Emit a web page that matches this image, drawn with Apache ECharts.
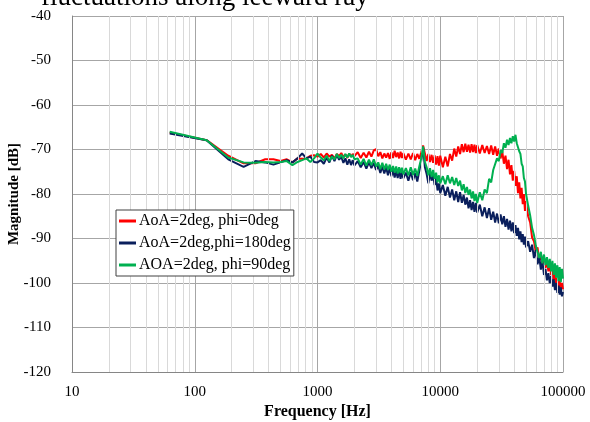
<!DOCTYPE html>
<html>
<head>
<meta charset="utf-8">
<script src="https://cdn.jsdelivr.net/npm/echarts@6/dist/echarts.min.js"></script>
<style>
  html, body { margin: 0; padding: 0; background: #fff; }
  #chart { width: 590px; height: 422px; }
</style>
</head>
<body>
<div id="chart"></div>
<script>
// FFT bin frequencies (Hz)
const freqHz = [
  62.5,125,187.5,250,312.5,375,437.5,500,562.5,625,687.5,750,812.5,875,937.5,1000,
  1062.5,1125,1187.5,1250,1312.5,1375,1437.5,1500,1562.5,1625,1687.5,1750,1812.5,1875,1937.5,2000,
  2125,2250,2375,2500,2625,2750,2875,3000,3125,3250,3375,3500,3625,3750,3875,4000,4125,4250,4375,4500,4625,4750,4875,5000,
  5250,5500,5750,6000,6250,6500,6750,7000,7250,7500,7750,8000,8250,8500,8750,9000,9250,9500,9750,10000,
  10500,11000,11500,12000,12500,13000,13500,14000,14500,15000,15500,16000,16500,17000,17500,18000,18500,19000,19500,20000,
  21000,22000,23000,24000,25000,26000,27000,28000,29000,30000,31000,32000,33000,34000,35000,36000,37000,38000,39000,40000,
  41000,42000,43000,44000,45000,46000,47000,48000,49000,50000,
  52000,54000,56000,58000,60000,62000,64000,66000,68000,70000,72000,74000,76000,78000,80000,
  82000,84000,86000,88000,90000,92000,94000,96000,98000,100000
];

// AoA=2deg, phi=0deg
const magPhi0 = [
  -66.2,-67.9,-71.4,-73.1,-73.1,-72.2,-72.2,-72.6,-72.2,-72.9,-72.0,-72.1,-72.0,-71.4,-71.3,-71.6,
  -71.0,-71.8,-70.9,-71.6,-71.2,-72.0,-71.0,-71.5,-70.8,-71.7,-71.1,-71.9,-70.9,-71.6,-71.0,-71.5,
  -70.6,-71.9,-70.7,-71.8,-70.5,-71.6,-70.2,-69.9,-71.5,-70.6,-72.0,-70.9,-71.8,-70.8,-72.1,-70.6,-71.9,-70.3,-71.7,-70.7,-72.0,-70.5,-71.9,-70.8,
  -72.3,-70.9,-72.2,-70.8,-72.4,-71.0,-72.1,-70.6,-69.1,-70.9,-72.6,-71.0,-72.8,-71.2,-73.0,-71.3,-73.4,-71.5,-73.6,-71.4,
  -74.0,-71.6,-73.8,-71.0,-72.5,-69.8,-71.6,-69.3,-71.0,-68.8,-70.6,-68.7,-70.5,-68.9,-70.7,-68.8,-70.6,-68.9,-70.8,-69.0,
  -70.9,-69.0,-70.8,-69.2,-71.0,-69.1,-71.2,-69.3,-71.4,-69.8,-72.0,-70.4,-73.2,-71.4,-74.4,-72.3,-75.6,-73.5,-77.0,-74.8,
  -78.2,-76.0,-79.8,-77.4,-81.0,-78.6,-82.3,-80.0,-83.8,-81.6,
  -85.0,-86.4,-89.8,-90.6,-93.0,-92.0,-95.0,-93.4,-95.8,-94.2,-96.6,-95.0,-97.4,-95.8,-98.2,
  -96.8,-99.4,-97.8,-100.4,-98.8,-101.2,-99.4,-101.8,-100.0,-101.4
];

// AoA=2deg, phi=180deg
const magPhi180 = [
  -66.4,-67.9,-72.2,-73.9,-72.6,-72.9,-73.4,-72.9,-72.4,-72.9,-72.0,-70.9,-72.0,-71.6,-72.8,-72.9,
  -72.4,-73.2,-71.8,-72.9,-71.4,-72.6,-71.2,-72.3,-71.6,-73.0,-72.0,-73.4,-72.2,-73.5,-72.4,-73.6,
  -72.6,-74.0,-72.8,-74.3,-72.9,-74.2,-73.0,-74.6,-73.6,-75.3,-73.8,-75.4,-74.0,-75.8,-74.1,-76.0,-74.6,-76.3,-74.8,-76.4,-74.7,-76.6,-75.0,-76.5,
  -75.2,-77.0,-75.1,-76.9,-75.3,-77.2,-74.8,-72.5,-69.6,-74.0,-75.5,-77.6,-75.2,-77.0,-75.6,-78.0,-76.4,-79.2,-77.6,-79.8,
  -78.0,-80.4,-78.4,-80.8,-79.0,-81.4,-79.4,-81.8,-79.6,-82.0,-80.2,-82.4,-80.8,-83.2,-81.4,-83.6,-81.8,-84.0,-82.0,-84.2,
  -82.4,-85.0,-83.0,-85.4,-83.2,-85.8,-84.0,-86.4,-84.4,-86.6,-84.6,-86.8,-85.0,-87.4,-85.6,-88.0,-86.0,-88.4,-86.4,-88.8,
  -87.0,-89.4,-87.6,-90.2,-88.4,-90.8,-89.0,-91.4,-89.6,-92.0,
  -90.6,-93.0,-91.4,-94.4,-92.6,-95.8,-94.0,-97.0,-95.2,-98.2,-96.8,-99.4,-97.8,-100.0,-98.4,
  -100.8,-99.2,-101.6,-100.0,-102.2,-100.6,-102.6,-101.0,-103.0,-102.0
];

// AOA=2deg, phi=90deg
const magPhi90 = [
  -66.0,-67.9,-71.8,-72.9,-73.0,-72.8,-72.9,-72.8,-72.6,-73.5,-72.8,-72.4,-72.0,-72.8,-72.0,-70.9,
  -71.8,-72.4,-71.4,-72.6,-71.6,-72.2,-71.0,-71.9,-71.2,-72.0,-71.0,-71.8,-70.9,-71.7,-71.2,-72.2,
  -72.0,-73.4,-72.1,-73.6,-72.3,-73.5,-72.2,-73.8,-72.9,-74.4,-73.0,-74.5,-73.2,-74.6,-73.4,-75.0,-73.7,-75.2,-73.8,-75.4,-74.0,-75.3,-74.1,-75.6,
  -74.2,-75.8,-74.0,-75.7,-74.3,-75.9,-73.8,-72.0,-69.3,-72.8,-74.0,-75.8,-74.2,-76.2,-74.6,-76.6,-75.2,-77.4,-75.8,-77.6,
  -76.0,-77.8,-75.8,-77.6,-76.2,-78.0,-76.4,-78.2,-77.0,-79.2,-77.8,-79.8,-78.4,-80.2,-79.0,-81.0,-79.4,-81.6,-80.0,-82.0,
  -79.6,-81.4,-79.0,-79.8,-76.6,-77.4,-74.6,-74.8,-72.0,-72.6,-70.2,-70.8,-68.6,-69.6,-67.8,-69.0,-67.4,-68.6,-67.0,-68.2,
  -66.7,-68.6,-68.4,-70.4,-71.0,-73.2,-73.8,-76.4,-77.2,-80.0,
  -82.6,-84.8,-87.6,-89.2,-91.6,-91.8,-94.4,-93.0,-95.6,-93.6,-96.0,-94.2,-96.6,-94.6,-97.4,
  -95.0,-98.2,-95.6,-98.8,-96.0,-99.6,-96.4,-99.8,-96.8,-99.0
];

const seriesNames = ['AoA=2deg, phi=0deg', 'AoA=2deg,phi=180deg', 'AOA=2deg, phi=90deg'];
const seriesColors = ['#ff0000', '#0a1f5c', '#00b050'];
const seriesValues = [magPhi0, magPhi180, magPhi90];

// Light vertical grid lines at 2..9 within each decade
const minorFreqs = [
  20,30,40,50,60,70,80,90,
  200,300,400,500,600,700,800,900,
  2000,3000,4000,5000,6000,7000,8000,9000,
  20000,30000,40000,50000,60000,70000,80000,90000
];

const serif = '"Liberation Serif", "Times New Roman", serif';

const chart = echarts.init(document.getElementById('chart'), null, { renderer: 'canvas' });

const lineSeries = seriesNames.map((name, i) => ({
  name: name,
  type: 'line',
  data: freqHz.map((f, k) => [f, seriesValues[i][k]]),
  showSymbol: false,
  symbol: 'none',
  smooth: false,
  sampling: null,
  z: 3 + i,
  lineStyle: { color: seriesColors[i], width: 2 },
  itemStyle: { color: seriesColors[i] },
  emphasis: { disabled: true },
  animation: false
}));

const minorGridSeries = {
  name: 'minorGrid',
  type: 'line',
  data: [],
  z: 1,
  silent: true,
  animation: false,
  markLine: {
    silent: true,
    symbol: ['none', 'none'],
    label: { show: false },
    animation: false,
    lineStyle: { color: '#d9d9d9', type: 'solid', width: 1 },
    emphasis: { disabled: true },
    data: minorFreqs.map(f => ({ xAxis: f }))
  }
};

chart.setOption({
  animation: false,
  backgroundColor: '#ffffff',
  graphic: [{
    type: 'text',
    x: 41,
    y: -2,
    z: 20,
    style: {
      text: 'fluctuations along leeward ray',
      font: 'normal 27px ' + serif,
      fill: '#000',
      verticalAlign: 'middle'
    }
  }],
  grid: { left: 72, top: 16, width: 491, height: 356, containLabel: false, outerBoundsMode: 'none' },
  legend: {
    data: seriesNames,
    orient: 'vertical',
    left: 116,
    top: 210,
    z: 20,
    padding: [3, 3, 3, 3],
    itemGap: 6,
    itemWidth: 17,
    itemHeight: 3,
    icon: 'rect',
    backgroundColor: '#ffffff',
    borderColor: '#404040',
    borderWidth: 1,
    borderRadius: 0,
    selectedMode: false,
    textStyle: { fontFamily: serif, fontSize: 16, color: '#000', padding: [0, 0, 0, -2] }
  },
  xAxis: {
    type: 'log',
    logBase: 10,
    min: 10,
    max: 100000,
    name: 'Frequency [Hz]',
    nameLocation: 'middle',
    nameGap: 32,
    nameMoveOverlap: false,
    nameTextStyle: { fontFamily: serif, fontSize: 16, fontWeight: 'bold', color: '#000' },
    axisLine: { show: true, lineStyle: { color: '#868686', width: 1 } },
    axisTick: { show: false },
    axisLabel: {
      fontFamily: serif, fontSize: 15, color: '#000', margin: 13,
      formatter: v => String(Math.round(v))
    },
    splitLine: { show: true, lineStyle: { color: '#a6a6a6', width: 1 } },
    minorTick: { show: false },
    minorSplitLine: { show: false }
  },
  yAxis: {
    type: 'value',
    min: -120,
    max: -40,
    interval: 10,
    name: 'Magnitude [dB]',
    nameLocation: 'middle',
    nameGap: 50,
    nameRotate: 90,
    nameMoveOverlap: false,
    nameTextStyle: { fontFamily: serif, fontSize: 15, fontWeight: 'bold', color: '#000' },
    axisLine: { show: true, lineStyle: { color: '#868686', width: 1 } },
    axisTick: { show: false },
    axisLabel: { fontFamily: serif, fontSize: 15, color: '#000', margin: 21 },
    splitLine: { show: true, lineStyle: { color: '#a6a6a6', width: 1 } }
  },
  series: [minorGridSeries].concat(lineSeries)
});
</script>
</body>
</html>
